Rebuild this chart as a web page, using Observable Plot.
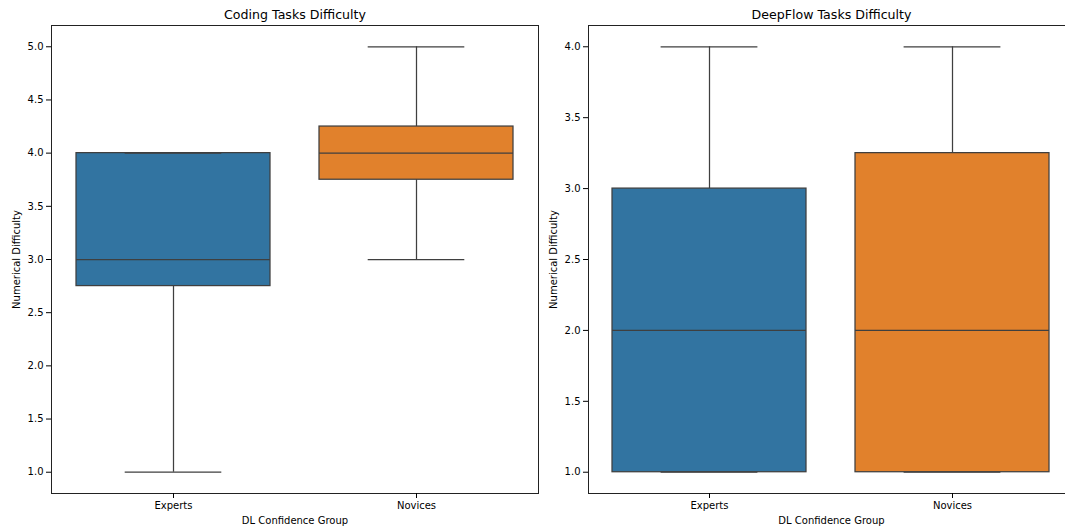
<!DOCTYPE html>
<html>
<head>
<meta charset="utf-8">
<script src="https://cdn.jsdelivr.net/npm/d3@7"></script>
<script src="https://cdn.jsdelivr.net/npm/@observablehq/plot@0.6"></script>
<style>
  html, body { margin: 0; padding: 0; background: #fff; }
  #wrap { position: relative; width: 1065px; height: 531px; overflow: hidden; background: #fff; }
  #wrap svg { position: absolute; top: 0; overflow: visible; }
</style>
</head>
<body>
<div id="wrap"></div>
<script>
// ---- data ----
const groups = ["Experts", "Novices"];
const groupColors = ["#3274a1", "#e1812c"];

const codingTitle = "Coding Tasks Difficulty";
const codingLow  = [1.0, 3.0];
const codingQ1   = [2.75, 3.75];
const codingMed  = [3.0, 4.0];
const codingQ3   = [4.0, 4.25];
const codingHigh = [4.0, 5.0];
const codingTicks = [1.0, 1.5, 2.0, 2.5, 3.0, 3.5, 4.0, 4.5, 5.0];
const codingDomain = [0.8, 5.2];

const deepTitle = "DeepFlow Tasks Difficulty";
const deepLow  = [1.0, 1.0];
const deepQ1   = [1.0, 1.0];
const deepMed  = [2.0, 2.0];
const deepQ3   = [3.0, 3.25];
const deepHigh = [4.0, 4.0];
const deepTicks = [1.0, 1.5, 2.0, 2.5, 3.0, 3.5, 4.0];
const deepDomain = [0.85, 4.15];

const xLabel = "DL Confidence Group";
const yLabel = "Numerical Difficulty";

const lineColor = "#3f3f3f";

function rowsOf(low, q1, med, q3, high) {
  return groups.map((g, i) => ({group: g, low: low[i], q1: q1[i], med: med[i], q3: q3[i], high: high[i]}));
}

function panel({title, rows, ticks, domain, left, width, marginLeft, marginRight}) {
  const frameW = width - marginLeft - marginRight;
  const capInset = (frameW / groups.length) * 0.8 / 4;
  const sw = 1.25;
  const chart = Plot.plot({
    width, height: 531,
    marginLeft, marginRight, marginTop: 25, marginBottom: 38,
    style: {fontFamily: "DejaVu Sans, sans-serif", fontSize: "10px", color: "#000", background: "transparent"},
    x: {type: "band", domain: groups, paddingInner: 0.2, paddingOuter: 0.1},
    y: {domain},
    color: {domain: groups, range: groupColors},
    marks: [
      Plot.ruleX(rows, {x: "group", y1: "q3", y2: "high", stroke: lineColor, strokeWidth: sw}),
      Plot.ruleX(rows, {x: "group", y1: "low", y2: "q1", stroke: lineColor, strokeWidth: sw}),
      Plot.barY(rows, {x: "group", y1: "q1", y2: "q3", fill: "group", stroke: lineColor, strokeWidth: sw}),
      Plot.tickY(rows, {x: "group", y: "high", insetLeft: capInset, insetRight: capInset, stroke: lineColor, strokeWidth: sw}),
      Plot.tickY(rows, {x: "group", y: "low", insetLeft: capInset, insetRight: capInset, stroke: lineColor, strokeWidth: sw}),
      Plot.tickY(rows, {x: "group", y: "med", stroke: lineColor, strokeWidth: sw}),
      Plot.frame({stroke: "#222", strokeWidth: 1}),
      Plot.axisY({ticks, tickFormat: d => d.toFixed(1), tickSize: 5, tickPadding: 3, label: null, fontSize: 10}),
      Plot.axisX({tickSize: 5, tickPadding: 3, label: null, fontSize: 10}),
      Plot.text([title], {frameAnchor: "top", dy: -11, fontSize: 12.6, lineAnchor: "middle", fill: "#000"}),
      Plot.text([xLabel], {frameAnchor: "bottom", dy: 27, fontSize: 10, lineAnchor: "middle", fill: "#000"}),
      Plot.text([yLabel], {frameAnchor: "left", dx: -35, rotate: -90, fontSize: 10, lineAnchor: "middle", textAnchor: "middle", fill: "#000"})
    ]
  });
  chart.style.left = left + "px";
  document.getElementById("wrap").appendChild(chart);
}

panel({title: codingTitle, rows: rowsOf(codingLow, codingQ1, codingMed, codingQ3, codingHigh),
       ticks: codingTicks, domain: codingDomain, left: 0, width: 540, marginLeft: 51, marginRight: 2});
panel({title: deepTitle, rows: rowsOf(deepLow, deepQ1, deepMed, deepQ3, deepHigh),
       ticks: deepTicks, domain: deepDomain, left: 540, width: 536, marginLeft: 48, marginRight: 2});
</script>
</body>
</html>
